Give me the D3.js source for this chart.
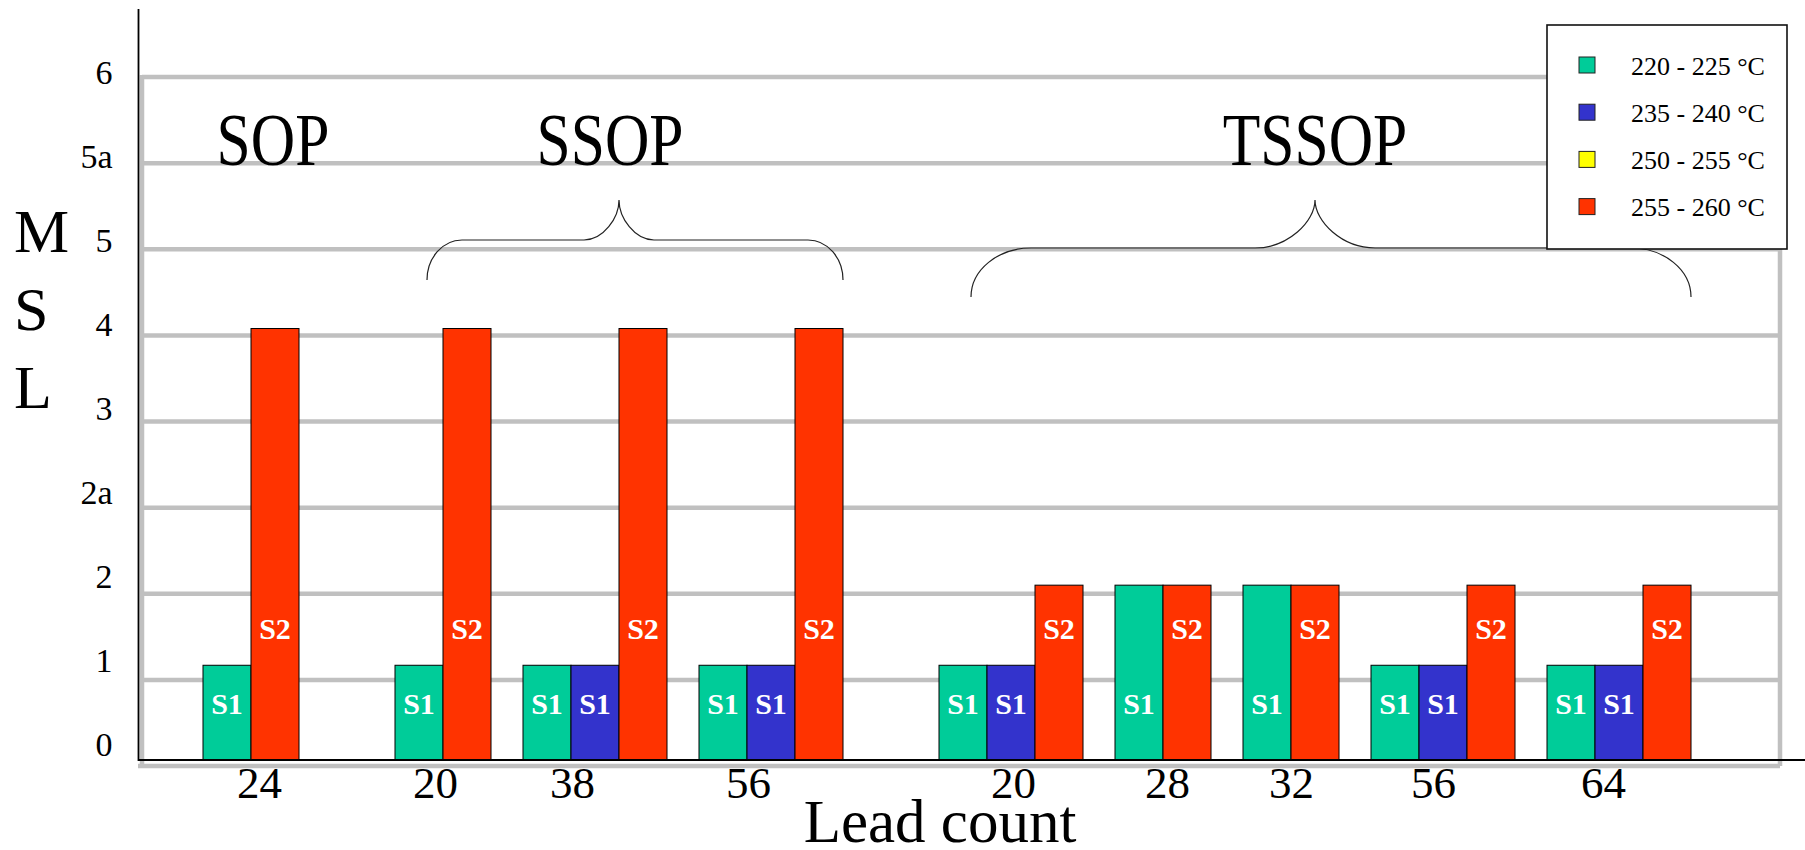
<!DOCTYPE html>
<html>
<head>
<meta charset="utf-8">
<script src="https://cdn.jsdelivr.net/npm/d3@7/dist/d3.min.js"></script>
<style>
  html, body { margin: 0; padding: 0; background: #fff; }
  svg { display: block; }
</style>
</head>
<body>
<svg id="chart" width="1805" height="850"></svg>
<script>
// ---- data ----------------------------------------------------------------
const mslLevels = ["0", "1", "2", "2a", "3", "4", "5", "5a", "6"];
const packageFamilies = ["SOP", "SSOP", "TSSOP"];
const sopLeads = ["24"];
const ssopLeads = ["20", "38", "56"];
const tssopLeads = ["20", "28", "32", "56", "64"];
const reflowSeries = ["220 - 225 °C", "235 - 240 °C", "250 - 255 °C", "255 - 260 °C"];
const seriesTags = ["S1", "S1", "S1", "S2"];

// Bar heights measured along the MSL axis (position in mslLevels);
// order: SOP 24 | SSOP 20, 38, 56 | TSSOP 20, 28, 32, 56, 64; null = no bar
const msl220 = [1.1, 1.1, 1.1, 1.1, 1.1, 2.03, 2.03, 1.1, 1.1];
const msl235 = [null, null, 1.1, 1.1, 1.1, null, null, 1.1, 1.1];
const msl250 = [null, null, null, null, null, null, null, null, null];
const msl255 = [5.01, 5.01, 5.01, 5.01, 2.03, 2.03, 2.03, 2.03, 2.03];

// ---- styling / layout ----------------------------------------------------
const seriesColors = ["#00cc99", "#3333cc", "#ffff00", "#ff3300"];
const serif = "'Liberation Serif', 'Times New Roman', serif";
const leadsByFamily = [sopLeads, ssopLeads, tssopLeads];
const seriesValues = [msl220, msl235, msl250, msl255];

const axisX = 139, wallRight = 1780;
const floorY = 766, wallTop = 77, baseY = 760;
const unit = { left: 4 / 3, group: 2 / 3, section: 2, right: 1.854 };
// hand placement of the lead-count captions and family titles (px)
const leadLabelNudge = [8, -8, -23, -23, 2, 4, 0, -10, -16];
const titleNudge = { SOP: 22, SSOP: -9, TSSOP: 0 };

// lay the groups out one bar slot at a time
let cursor = unit.left;
const groups = [];
const sections = [];
packageFamilies.forEach((fam, fi) => {
  if (fi > 0) cursor += unit.section;
  const start = cursor;
  leadsByFamily[fi].forEach((lead, li) => {
    if (li > 0) cursor += unit.group;
    const idx = groups.length;
    const present = seriesValues
      .map((vals, si) => ({ si, v: vals[idx] }))
      .filter(b => b.v != null);
    const g = { fam, lead, start: cursor,
      bars: present.map((b, k) => ({ ...b, slot: cursor + k })) };
    cursor += present.length;
    g.end = cursor;
    groups.push(g);
  });
  sections.push({ fam, start, end: cursor });
});
const totalUnits = cursor + unit.right;

const x = d3.scaleLinear().domain([0, totalUnits]).range([axisX, wallRight]);
const levelSpan = mslLevels.length - 1;
const yWall = d3.scaleLinear().domain([0, levelSpan]).range([floorY, wallTop]);
const yBar = d3.scaleLinear().domain([0, levelSpan]).range([baseY, baseY - (floorY - wallTop)]);
const yLabel = d3.scaleLinear().domain([0, levelSpan]).range([745, 73]);

const svg = d3.select("#chart");

// ---- back wall gridlines -------------------------------------------------
const grid = svg.append("g").attr("stroke", "#c0c0c0").attr("stroke-width", 4.5);
grid.selectAll("line.h")
  .data(d3.range(1, mslLevels.length))
  .join("line")
  .attr("x1", axisX + 3).attr("x2", wallRight)
  .attr("y1", d => yWall(d)).attr("y2", d => yWall(d));
grid.append("line")
  .attr("x1", axisX - 1).attr("x2", wallRight)
  .attr("y1", yWall(0)).attr("y2", yWall(0));
grid.append("line")
  .attr("x1", axisX + 3).attr("x2", axisX + 3)
  .attr("y1", yWall(levelSpan) - 2).attr("y2", yWall(0) + 2);
grid.append("line")
  .attr("x1", wallRight).attr("x2", wallRight)
  .attr("y1", yWall(levelSpan) - 2).attr("y2", yWall(0));

// ---- family braces and titles --------------------------------------------
const braceShape = {
  SSOP: { tip: 200, bar: 240, foot: 280, r: 35 },
  TSSOP: { tip: 200, bar: 248, foot: 297, r: 60 }
};
function bracePath(x0, x1, xt, s) {
  const k = 0.552, hE = s.foot - s.bar, hT = s.bar - s.tip, r = s.r;
  return `M${x0},${s.foot}` +
    `C${x0},${s.foot - hE * k} ${x0 + r - r * k},${s.bar} ${x0 + r},${s.bar}` +
    `L${xt - r},${s.bar}` +
    `C${xt - r + r * k},${s.bar} ${xt},${s.bar - hT * k} ${xt},${s.tip}` +
    `C${xt},${s.bar - hT * k} ${xt + r - r * k},${s.bar} ${xt + r},${s.bar}` +
    `L${x1 - r},${s.bar}` +
    `C${x1 - r + r * k},${s.bar} ${x1},${s.foot - hE * k} ${x1},${s.foot}`;
}
svg.append("g")
  .selectAll("path")
  .data(sections.filter(s => braceShape[s.fam]))
  .join("path")
  .attr("d", s => bracePath(x(s.start + unit.group), x(s.end), x((s.start + s.end) / 2), braceShape[s.fam]))
  .attr("fill", "none").attr("stroke", "#222").attr("stroke-width", 1.2);

svg.append("g")
  .selectAll("text")
  .data(sections)
  .join("text")
  .attr("transform", s => `translate(${x((s.start + s.end) / 2) + titleNudge[s.fam]},165) scale(0.82,1)`)
  .attr("text-anchor", "middle")
  .attr("font-family", serif).attr("font-size", 75)
  .text(s => s.fam);

// ---- bars ----------------------------------------------------------------
const allBars = groups.flatMap(g => g.bars);
const barLayer = svg.append("g");
barLayer.selectAll("rect")
  .data(allBars)
  .join("rect")
  .attr("x", b => x(b.slot))
  .attr("width", b => x(b.slot + 1) - x(b.slot))
  .attr("y", b => yBar(b.v))
  .attr("height", b => yBar(0) - yBar(b.v))
  .attr("fill", b => seriesColors[b.si])
  .attr("stroke", "#000").attr("stroke-width", 1);

barLayer.selectAll("text")
  .data(allBars)
  .join("text")
  .attr("x", b => x(b.slot + 0.5))
  .attr("y", b => seriesTags[b.si] === "S2" ? yBar(1.405) : yBar(0.535))
  .attr("text-anchor", "middle")
  .attr("font-family", serif).attr("font-size", 30).attr("font-weight", "bold")
  .attr("fill", "#fff")
  .text(b => seriesTags[b.si]);

// ---- axes ----------------------------------------------------------------
svg.append("line")
  .attr("x1", axisX - 0.5).attr("x2", axisX - 0.5)
  .attr("y1", 9).attr("y2", baseY + 1)
  .attr("stroke", "#000").attr("stroke-width", 1.8);
svg.append("line")
  .attr("x1", axisX - 1).attr("x2", 1805)
  .attr("y1", baseY).attr("y2", baseY)
  .attr("stroke", "#000").attr("stroke-width", 2);

const yAxis = svg.append("g")
  .attr("transform", "translate(112.5,0)")
  .call(d3.axisLeft(yLabel)
    .tickValues(d3.range(mslLevels.length))
    .tickFormat(i => mslLevels[i])
    .tickSize(0).tickPadding(0));
yAxis.select(".domain").remove();
yAxis.selectAll("text")
  .attr("font-family", serif).attr("font-size", 34).attr("fill", "#000");

const xAxis = svg.append("g")
  .attr("transform", `translate(0,${baseY})`)
  .call(d3.axisBottom(x)
    .tickValues(groups.map(g => (g.start + g.end) / 2))
    .tickFormat((d, i) => groups[i].lead)
    .tickSize(0).tickPadding(6));
xAxis.select(".domain").remove();
xAxis.selectAll("text")
  .attr("font-family", serif).attr("font-size", 45).attr("fill", "#000")
  .attr("dx", (d, i) => leadLabelNudge[i]);

// axis titles
svg.append("text")
  .attr("x", 940).attr("y", 842)
  .attr("text-anchor", "middle")
  .attr("font-family", serif).attr("font-size", 61)
  .text("Lead count");

svg.append("g")
  .selectAll("text")
  .data(["M", "S", "L"])
  .join("text")
  .attr("x", 14)
  .attr("y", (d, i) => 252 + i * 78)
  .attr("font-family", serif).attr("font-size", 62)
  .text(d => d);

// ---- legend --------------------------------------------------------------
const legend = svg.append("g");
legend.append("rect")
  .attr("x", 1547).attr("y", 25).attr("width", 240).attr("height", 224)
  .attr("fill", "#fff").attr("stroke", "#111").attr("stroke-width", 1.6);
const item = legend.selectAll("g.item")
  .data(reflowSeries)
  .join("g")
  .attr("transform", (d, i) => `translate(1579,${65 + i * 47.2})`);
item.append("rect")
  .attr("x", 0).attr("y", -8).attr("width", 16).attr("height", 16)
  .attr("fill", (d, i) => seriesColors[i])
  .attr("stroke", "#222").attr("stroke-width", 1);
item.append("text")
  .attr("x", 52).attr("y", 9.5)
  .attr("font-family", serif).attr("font-size", 26)
  .text(d => d);
</script>
</body>
</html>
